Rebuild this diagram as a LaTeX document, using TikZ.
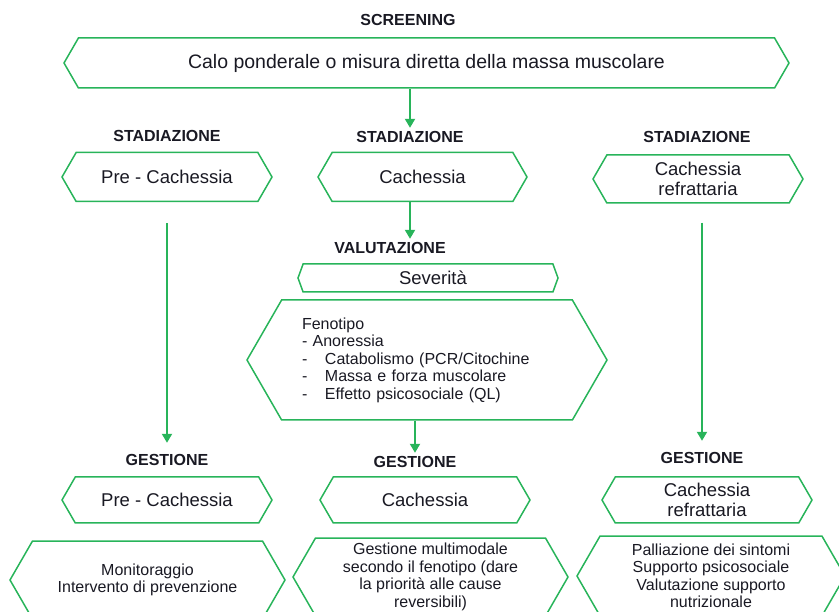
\documentclass[tikz,border=0pt]{standalone}
\usepackage{fontspec}
\setmainfont{Liberation Sans}
\usetikzlibrary{shapes.symbols,arrows.meta}
\definecolor{verde}{RGB}{40,180,90}
\definecolor{testo}{RGB}{25,25,35}

\begin{document}
\begin{tikzpicture}[x=1pt,y=-1pt,text=testo,
    hexbox/.style={shape=signal, signal to=west and east, signal pointer angle=120,
        draw=verde, line width=1.5pt, inner sep=0pt, align=center,
        font=\fontsize{18.5}{20}\selectfont},
    small/.style={font=\fontsize{16}{17.5}\selectfont},
    header/.style={font=\bfseries\fontsize{16}{17}\selectfont},
    arr/.style={verde, line width=2pt, -{Triangle[length=9pt,width=10pt]}}]
    \useasboundingbox (0,0) rectangle (839,612);
    \clip (0,0) rectangle (839,612);
    % screening
    \node[header] (scr) at (408,20) {SCREENING};
    \node[hexbox, font=\fontsize{19.5}{21}\selectfont, minimum width=725, minimum height=50] (calo) at (426.5,63)
        {Calo ponderale o misura diretta della massa muscolare};
    % stadiazione
    \node[header] (stadA) at (167,136) {STADIAZIONE};
    \node[header] (stadB) at (410,137) {STADIAZIONE};
    \node[header] (stadC) at (697,137) {STADIAZIONE};
    \node[hexbox, minimum width=210, minimum height=49] (preA) at (167,177) {Pre - Cachessia};
    \node[hexbox, minimum width=209, minimum height=49] (cachA) at (422.5,177) {Cachessia};
    \node[hexbox, minimum width=210, minimum height=48] (refrA) at (698,179) {Cachessia\\refrattaria};
    % valutazione
    \node[header] (val) at (390,248) {VALUTAZIONE};
    \node[hexbox, signal pointer angle=140, minimum width=260, minimum height=28] (sev) at (428,278) {\hspace{10pt}Severità};
    \node[hexbox, small, text width=250, align=left, minimum width=360, minimum height=120] (fen) at (427,360)
        {Fenotipo\\- Anoressia\\
        \makebox[23pt][l]{-}Catabolismo (PCR/Citochine\\
        \makebox[23pt][l]{-}Massa e forza muscolare\\
        \makebox[23pt][l]{-}Effetto psicosociale (QL)};
    % gestione
    \node[header] (gesA) at (167,460) {GESTIONE};
    \node[header] (gesB) at (415,462) {GESTIONE};
    \node[header] (gesC) at (702,458) {GESTIONE};
    \node[hexbox, minimum width=210, minimum height=46] (preB) at (167,500) {Pre - Cachessia};
    \node[hexbox, minimum width=210, minimum height=46] (cachB) at (425,500) {Cachessia};
    \node[hexbox, minimum width=210, minimum height=46] (refrB) at (707,500) {Cachessia\\refrattaria};
    \node[hexbox, small, minimum width=275, minimum height=78] (monit) at (147.5,580)
        {Monitoraggio\\Intervento di prevenzione};
    \node[hexbox, small, minimum width=275, minimum height=78] (multi) at (430.5,577)
        {Gestione multimodale\\secondo il fenotipo (dare\\la priorità alle cause\\reversibili)};
    \node[hexbox, small, minimum width=268, minimum height=80] (pall) at (711,576)
        {Palliazione dei sintomi\\Supporto psicosociale\\Valutazione supporto\\nutrizionale};
    % frecce
    \draw[arr] (calo.south -| stadB) -- (stadB.north);
    \draw[arr] (cachA.south -| stadB) -- (val.north -| stadB);
    \draw[arr] (preA.south -| gesA) ++(0,21) -- ([yshift=8pt]gesA.north);
    \draw[arr] (refrA.south -| gesC) ++(0,19) -- ([yshift=8pt]gesC.north);
    \draw[arr] (fen.south -| gesB) -- (gesB.north);
\end{tikzpicture}
\end{document}
